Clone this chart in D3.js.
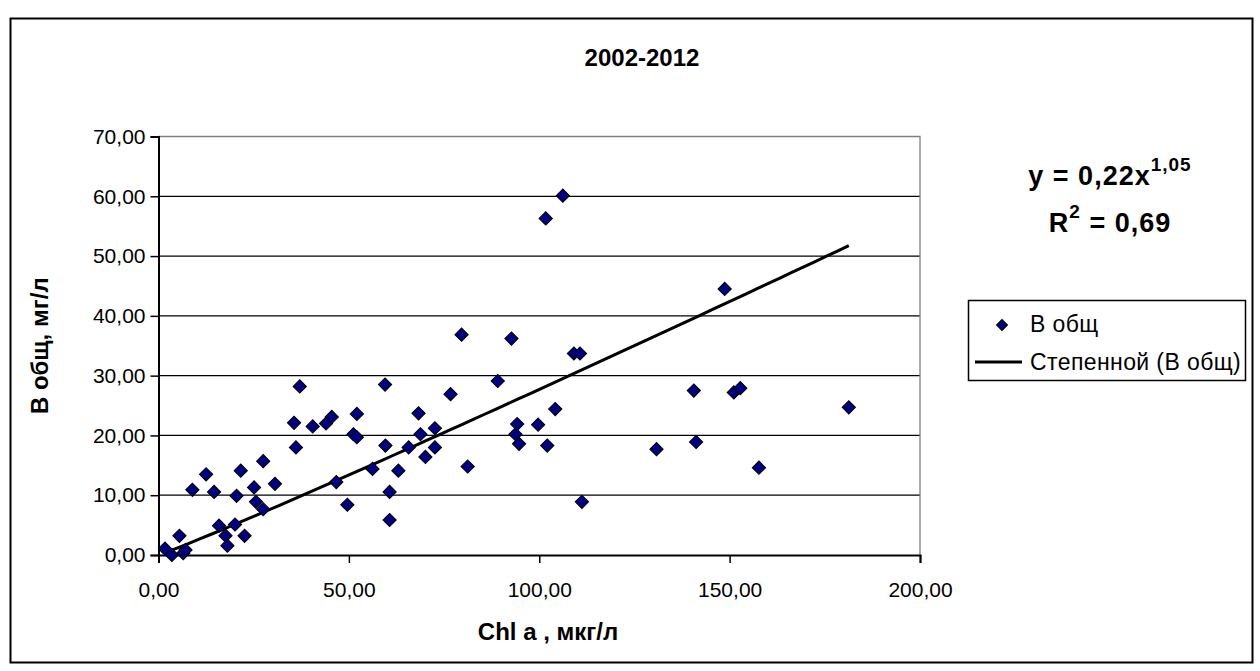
<!DOCTYPE html>
<html>
<head>
<meta charset="utf-8">
<script src="https://cdnjs.cloudflare.com/ajax/libs/d3/7.8.5/d3.min.js"></script>
<style>
    body { margin: 0; background: #ffffff; }
    text { font-family: "Liberation Sans", Arial, sans-serif; }
</style>
</head>
<body>
<div id="chart"></div>
<script>
// Chl a, мкг/л
var chl_values = [1.7, 3.5, 6.5, 7.1, 5.5, 8.9, 12.5, 14.6, 15.9, 17.6, 18.1, 20.1, 20.5, 21.6, 22.6, 25.1, 25.6,
                  27.5, 27.5, 30.6, 35.6, 36.1, 37.1, 40.5, 44.0, 45.5, 46.7, 49.6, 51.2, 52.1, 52.1, 56.2, 59.5,
                  59.6, 60.7, 60.7, 63.0, 65.7, 68.3, 68.8, 70.1, 72.6, 72.6, 76.7, 79.6, 81.2, 89.1, 92.7, 93.75,
                  94.2, 94.7, 99.7, 101.7, 102.1, 104.2, 106.2, 109.1, 110.7, 111.2, 130.8, 140.6, 141.2, 148.7,
                  151.1, 152.8, 157.7, 181.3];

// В общ, мг/л
var b_total_values = [1.06, 0.0, 0.3, 0.84, 3.2, 10.9, 13.5, 10.55, 4.9, 3.24, 1.56, 5.1, 9.9, 14.1, 3.2, 11.3, 8.9,
                      7.65, 15.7, 11.9, 22.1, 18.0, 28.2, 21.5, 22.0, 23.1, 12.2, 8.4, 20.2, 23.6, 19.7, 14.4, 28.5,
                      18.3, 10.55, 5.86, 14.1, 18.0, 23.7, 20.2, 16.4, 21.2, 18.0, 26.9, 36.85, 14.8, 29.1, 36.2, 20.2,
                      21.9, 18.6, 21.8, 56.3, 18.3, 24.4, 60.1, 33.7, 33.7, 8.9, 17.7, 27.5, 18.9, 44.5,
                      27.2, 27.9, 14.6, 24.7];

var x_ticks = [0, 50, 100, 150, 200];
var y_ticks = [0, 10, 20, 30, 40, 50, 60, 70];

// power trend line y = a * x^b
var trend_coefficient = 0.22;
var trend_exponent = 1.05;
var trend_r_squared = "0,69";

var chart_title = "2002-2012";
var x_axis_title = "Chl a , мкг/л";
var y_axis_title = "В общ, мг/л";
var series_name = "В общ";
var trend_name = "Степенной (В общ)";

var width = 1260;
var height = 671;

var plot_left = 158.5;
var plot_right = 920;
var plot_top = 136.5;
var plot_bottom = 555;

function format_number(value)
{
    return d3.format(".2f")(value).replace(".", ",");
}

function format_coefficient(value)
{
    return String(value).replace(".", ",");
}

function draw_chart()
{
    var svg = d3.select("#chart").append("svg")
                .attr("width", width)
                .attr("height", height);

    svg.append("rect")
       .attr("x", 10.5)
       .attr("y", 18.5)
       .attr("width", 1242)
       .attr("height", 644)
       .attr("fill", "#ffffff")
       .attr("stroke", "#000000")
       .attr("stroke-width", 2);

    var x_scale = d3.scaleLinear().domain([0, 200]).range([plot_left, plot_right]);
    var y_scale = d3.scaleLinear().domain([0, 70]).range([plot_bottom, plot_top]);

    // grid lines
    svg.append("g")
       .selectAll("line")
       .data(y_ticks.filter(function (d) { return d > 0 && d < 70; }))
       .enter().append("line")
       .attr("x1", plot_left)
       .attr("x2", plot_right)
       .attr("y1", function (d) { return y_scale(d); })
       .attr("y2", function (d) { return y_scale(d); })
       .attr("stroke", "#000000")
       .attr("stroke-width", 1.3);

    // plot area border (top and right, grey)
    svg.append("path")
       .attr("d", "M" + plot_left + "," + plot_top + "H" + plot_right + "V" + plot_bottom)
       .attr("fill", "none")
       .attr("stroke", "#808080")
       .attr("stroke-width", 1.3);

    var x_axis = svg.append("g")
                    .attr("transform", "translate(0," + plot_bottom + ")")
                    .call(d3.axisBottom(x_scale).tickValues(x_ticks).tickSize(8).tickPadding(19).tickFormat(format_number));

    var y_axis = svg.append("g")
                    .attr("transform", "translate(" + plot_left + ",0)")
                    .call(d3.axisLeft(y_scale).tickValues(y_ticks).tickSize(8).tickPadding(5).tickFormat(format_number));

    [x_axis, y_axis].forEach(function (axis)
    {
        axis.select(".domain").attr("stroke", "#000000").attr("stroke-width", 2);
        axis.selectAll(".tick line").attr("stroke", "#000000").attr("stroke-width", 1.5);
        axis.selectAll(".tick text")
            .attr("fill", "#000000")
            .style("font-family", "Liberation Sans, Arial, sans-serif")
            .style("font-size", "21px");
    });

    // trend line
    var x_min = d3.min(chl_values);
    var x_max = d3.max(chl_values);
    var trend_points = d3.range(0, 61).map(function (i)
    {
        var x = x_min + (x_max - x_min) * i / 60;
        return [x, trend_coefficient * Math.pow(x, trend_exponent)];
    });

    svg.append("path")
       .datum(trend_points)
       .attr("d", d3.line()
                    .x(function (d) { return x_scale(d[0]); })
                    .y(function (d) { return y_scale(d[1]); }))
       .attr("fill", "none")
       .attr("stroke", "#000000")
       .attr("stroke-width", 3);

    // points
    var diamond = d3.symbol().type(d3.symbolSquare).size(88);
    var points = chl_values.map(function (x, i) { return [x, b_total_values[i]]; });

    svg.append("g")
       .selectAll("path")
       .data(points)
       .enter().append("path")
       .attr("d", diamond)
       .attr("transform", function (d) { return "translate(" + x_scale(d[0]) + "," + y_scale(d[1]) + ")rotate(45)"; })
       .attr("fill", "#000080")
       .attr("stroke", "#000000")
       .attr("stroke-width", 1);

    // titles
    svg.append("text")
       .attr("x", 642)
       .attr("y", 66)
       .attr("text-anchor", "middle")
       .attr("font-weight", "bold")
       .attr("font-size", 24)
       .text(chart_title);

    svg.append("text")
       .attr("x", 548)
       .attr("y", 640)
       .attr("text-anchor", "middle")
       .attr("font-weight", "bold")
       .attr("font-size", 24)
       .text(x_axis_title);

    svg.append("text")
       .attr("transform", "translate(48," + ((plot_top + plot_bottom) / 2) + ")rotate(-90)")
       .attr("text-anchor", "middle")
       .attr("font-weight", "bold")
       .attr("font-size", 24)
       .text(y_axis_title);

    // equation
    var equation = svg.append("text")
                      .attr("x", 1110)
                      .attr("y", 185)
                      .attr("text-anchor", "middle")
                      .attr("font-weight", "bold")
                      .attr("font-size", 27)
                      .attr("letter-spacing", 1);
    equation.append("tspan").text("y = " + format_coefficient(trend_coefficient) + "x");
    equation.append("tspan").attr("dy", -14).attr("font-size", 19).text(format_coefficient(trend_exponent));

    var r_squared = svg.append("text")
                       .attr("x", 1110)
                       .attr("y", 232)
                       .attr("text-anchor", "middle")
                       .attr("font-weight", "bold")
                       .attr("font-size", 27)
                       .attr("letter-spacing", 1);
    r_squared.append("tspan").text("R");
    r_squared.append("tspan").attr("dy", -14).attr("font-size", 19).text("2");
    r_squared.append("tspan").attr("dy", 14).text(" = " + trend_r_squared);

    draw_legend(svg);
}

function draw_legend(svg)
{
    var legend = svg.append("g").attr("transform", "translate(968,300)");

    legend.append("rect")
          .attr("x", 0.5)
          .attr("y", 0.5)
          .attr("width", 277)
          .attr("height", 80)
          .attr("fill", "#ffffff")
          .attr("stroke", "#000000")
          .attr("stroke-width", 1.5);

    legend.append("path")
          .attr("d", d3.symbol().type(d3.symbolSquare).size(60))
          .attr("transform", "translate(34,25)rotate(45)")
          .attr("fill", "#000080")
          .attr("stroke", "#000000");

    legend.append("text")
          .attr("x", 62)
          .attr("y", 32)
          .attr("font-size", 23)
          .attr("letter-spacing", 0.4)
          .text(series_name);

    legend.append("line")
          .attr("x1", 7)
          .attr("x2", 54)
          .attr("y1", 62)
          .attr("y2", 62)
          .attr("stroke", "#000000")
          .attr("stroke-width", 3);

    legend.append("text")
          .attr("x", 62)
          .attr("y", 70)
          .attr("font-size", 23)
          .attr("letter-spacing", 0.4)
          .text(trend_name);
}

draw_chart();
</script>
</body>
</html>
